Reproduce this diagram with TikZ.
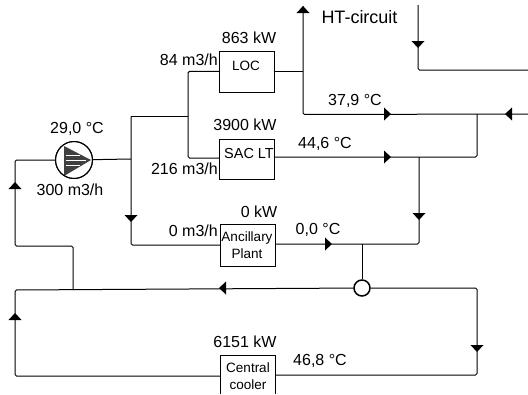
\documentclass[tikz,border=0pt]{standalone}
\usepackage{fontspec}
\setmainfont{Liberation Sans}
\newcommand{\mrk}[3]{\fill[black,shift={(#1,#2)},rotate=#3] (3,0) -- (-4,-6.5) -- (-4,6.5) -- cycle;}
\tikzset{
  lbl/.style={inner sep=0pt,font=\fontsize{16}{18}\selectfont},
  small/.style={inner sep=0pt,align=center,font=\fontsize{13.5}{16.5}\selectfont},
  unit/.style={draw,line width=1pt,fill=white,inner sep=0pt,minimum width=55pt},
  pipe/.style={line width=1pt,rounded corners=1.5pt},
}
\begin{document}
\begin{tikzpicture}[x=1pt,y=-1pt]
\useasboundingbox (0,0) rectangle (528,394);
\fill[white] (0,0) rectangle (528,394);
% units
\node[unit,minimum height=41pt,anchor=north west] (loc) at (219,51) {};
\node[unit,minimum height=40pt,anchor=north west] (sac) at (219,139) {};
\node[unit,minimum height=42pt,anchor=north west] (anc) at (220,224) {};
\coordinate (cbl) at (220.3,394); \coordinate (ctl) at (220.3,355.3);
\coordinate (ctr) at (275.3,355.3); \coordinate (cbr) at (275.3,394);
\coordinate (cl) at (220,376); \coordinate (cr) at (275,375);
\draw[line width=1pt] (cbl) -- (ctl) -- (ctr) -- (cbr);
\node[draw,circle,line width=1pt,minimum size=37pt,inner sep=0pt] (pump) at (74,160) {};
\node[draw,circle,line width=1.5pt,minimum size=16pt,inner sep=0pt] (mix) at (362,288) {};
% named pipe points
\coordinate (a1) at (15,160); \coordinate (a2) at (15,246); \coordinate (a3) at (73,246);
\coordinate (a4) at (73,290); \coordinate (a5) at (15,290); \coordinate (a6) at (15,376);
\coordinate (b1) at (131,159); \coordinate (b2) at (131,116.3); \coordinate (b3) at (131,245);
\coordinate (c1) at (188,116.3); \coordinate (c2) at (188,71.3); \coordinate (c3) at (188,158);
\coordinate (d1) at (303,71.3); \coordinate (d2) at (303,6); \coordinate (d3) at (303,114.5);
\coordinate (e1) at (528,114); \coordinate (e2) at (477,114); \coordinate (e3) at (477,157);
\coordinate (f1) at (419,157); \coordinate (f2) at (419,244); \coordinate (f3) at (362.3,244);
\coordinate (g1) at (418,5); \coordinate (g2) at (418,70); \coordinate (g3) at (528,70);
\coordinate (h1) at (477,288); \coordinate (h2) at (477,375);
% pipes
\draw[pipe] (pump) -- (a1) -- (a2) -- (a3) -- (a4);
\draw[pipe] (mix) -- (a5) -- (a6) -- (cl);
\draw[pipe] (mix) -- (h1) -- (h2) -- (cr);
\draw[pipe] (pump) -- (b1);
\draw[pipe] (b2) -- (b3) -- (b3 -| anc.west);
\draw[pipe] (b2) -- (c1);
\draw[pipe] (loc.west |- c2) -- (c2) -- (c3) -- (sac.west |- c3);
\draw[pipe] (loc.east |- d1) -- (d1);
\draw[pipe] (d2) -- (d3) -- (e1);
\draw[pipe] (e2) -- (e3) -- (sac.east |- e3);
\draw[pipe] (f1) -- (f2) -- (anc.east |- f2);
\draw[pipe] (f3) -- (f3 |- mix.north);
\draw[pipe] (g1) -- (g2) -- (g3);
% pump impeller
\fill[black!75] (64,146) -- (91,160) -- (64,176) -- cycle;
\draw[white,line width=0.5pt] (66,155) -- (80,155) (66,160) -- (86,160) (66,165) -- (80,165);
\draw[line width=1pt] (pump) circle (18.5);
% flow markers (angles are counter-clockwise on the page)
\mrk{15}{185}{90}
\mrk{15}{316}{90}
\mrk{131}{219}{-90}
\mrk{222}{288}{180}
\mrk{303}{9}{90}
\mrk{388}{114}{0}
\mrk{508}{114}{180}
\mrk{388}{157}{0}
\mrk{418}{45}{-90}
\mrk{419}{217}{-90}
\mrk{329}{244}{0}
\mrk{477}{349}{-90}
% labels
\node[lbl] (t1) at (249,38) {863 kW};
\node[lbl,anchor=east] (t2) at (218,60) {84 m3/h};
\node[small] (t3) at (246,66) {LOC};
\node[lbl] (t4) at (245,125) {3900 kW};
\node[small,font=\fontsize{14.5}{16}\selectfont] (t5) at (249,154) {SAC LT};
\node[lbl,anchor=east] (t6) at (218,169) {216 m3/h};
\node[lbl] (t7) at (77,129) {29,0 °C};
\node[lbl] (t8) at (70,190) {300 m3/h};
\node[lbl,font=\fontsize{18}{20}\selectfont] (t9) at (359.5,17) {HT-circuit};
\node[lbl] (t10) at (355,101) {37,9 °C};
\node[lbl] (t11) at (325,144) {44,6 °C};
\node[lbl] (t12) at (259,212) {0 kW};
\node[lbl,anchor=east] (t13) at (218,231) {0 m3/h};
\node[small] (t14) at (247,245) {Ancillary\\Plant};
\node[lbl] (t15) at (318,230) {0,0 °C};
\node[lbl] (t16) at (245,342) {6151 kW};
\node[small] (t17) at (248,376) {Central\\cooler};
\node[lbl] (t18) at (320,361) {46,8 °C};
\end{tikzpicture}
\end{document}
